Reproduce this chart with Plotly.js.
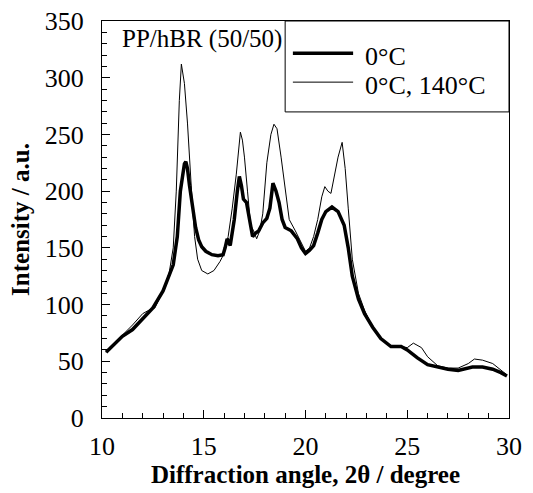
<!DOCTYPE html>
<html>
<head>
<meta charset="utf-8">
<script src="https://cdn.plot.ly/plotly-3.0.1.min.js"></script>
<style>html,body{margin:0;padding:0;background:#fff;}#chart{width:533px;height:493px;}</style>
</head>
<body>
<div id="chart"></div>
<script>
// 0°C (thick)
const angle0 = [10.2,10.5,11,11.5,12,12.5,13,13.3,13.5,13.7,13.85,13.95,14.05,14.12,14.2,14.3,14.45,14.6,14.75,14.9,15.1,15.4,15.7,15.95,16.05,16.15,16.3,16.5,16.65,16.75,16.85,16.95,17.1,17.25,17.4,17.55,17.7,17.9,18.1,18.25,18.4,18.55,18.7,18.85,19.0,19.3,19.6,19.8,20.0,20.2,20.4,20.6,20.8,21.0,21.3,21.6,21.9,22.1,22.3,22.6,22.9,23.3,23.7,24.2,24.7,25.0,25.5,26.0,26.5,27.0,27.5,27.8,28.2,28.7,29.2,29.6,29.9];
const int0 =   [58,63,72,78,87,97,112,125,135,160,200,212,224,226,220,205,185,168,157,151,147,144,143,144,150,158,152,175,200,213,205,193,190,175,160,163,165,172,176,185,207,200,190,175,168,165,158,150,145,148,152,163,175,182,186,182,170,150,125,105,92,80,70,63,63,60,53,47,45,43,42,43,45,45,43,40,37];
// 0°C, 140°C (thin)
const angle1 = [10.2,10.5,11,11.5,12,12.3,12.6,13,13.3,13.5,13.65,13.8,13.9,14.05,14.2,14.4,14.55,14.7,14.9,15.2,15.5,15.8,16.0,16.2,16.4,16.6,16.8,16.9,17.0,17.15,17.3,17.45,17.6,17.75,17.9,18.1,18.3,18.45,18.6,18.8,19.0,19.2,19.5,19.8,20.0,20.2,20.4,20.6,20.8,20.95,21.1,21.25,21.45,21.6,21.8,21.95,22.1,22.3,22.6,22.9,23.3,23.7,24.2,24.7,25.0,25.3,25.7,26.0,26.5,27.0,27.5,28.0,28.3,28.7,29.2,29.6,29.9];
const int1 =   [58,64,73,82,92,95,97,112,128,150,200,280,312,295,260,200,160,140,130,127,130,138,145,160,185,215,252,245,230,200,170,165,158,165,180,225,250,259,255,230,200,175,165,155,147,150,160,175,195,204,200,198,215,230,243,220,185,140,110,95,80,70,63,63,62,66,62,54,46,44,44,48,52,51,48,42,38];

const seriesNames = ['0°C', '0°C, 140°C'];
const seriesWidths = [3.5, 1];
const xTitle = 'Diffraction angle, 2θ / degree';
const yTitle = 'Intensity / a.u.';
const label = 'PP/hBR (50/50)';

const FONT = "'Liberation Serif', 'Times New Roman', Times, serif";

const traces = [
  {x: angle0, y: int0, name: seriesNames[0], mode: 'lines', line: {color: '#000', width: seriesWidths[0]}, showlegend: false},
  {x: angle1, y: int1, name: seriesNames[1], mode: 'lines', line: {color: '#000', width: seriesWidths[1]}, showlegend: false}
];

const axisCommon = {
  showline: true, mirror: true, linecolor: '#000', linewidth: 1,
  showgrid: false, zeroline: false,
  ticks: 'inside', ticklen: 8, tickwidth: 1, tickcolor: '#000',
  tickfont: {family: FONT, size: 26, color: '#000'}
};

// manual legend (paper coordinates)
const legBox = {x0: 0.45, x1: 1.0, y0: 0.771, y1: 1.0};
const legRows = [0.919, 0.846];
const legLine = [0.469, 0.617];
const shapes = [
  {type: 'rect', xref: 'paper', yref: 'paper', x0: legBox.x0, x1: legBox.x1, y0: legBox.y0, y1: legBox.y1,
   line: {color: '#000', width: 1}, fillcolor: '#fff', layer: 'above'}
];
const annotations = [{
  text: label, xref: 'paper', yref: 'paper', x: 0.045, y: 0.955,
  xanchor: 'left', yanchor: 'middle', showarrow: false,
  font: {family: FONT, size: 25, color: '#000'}
}];
seriesNames.forEach((n, i) => {
  shapes.push({type: 'line', xref: 'paper', yref: 'paper', x0: legLine[0], x1: legLine[1], y0: legRows[i], y1: legRows[i],
    line: {color: '#000', width: seriesWidths[i]}, layer: 'above'});
  annotations.push({text: n, xref: 'paper', yref: 'paper', x: 0.641, y: legRows[i] - 0.008,
    xanchor: 'left', yanchor: 'middle', showarrow: false, font: {family: FONT, size: 26, color: '#000'}});
});

const layout = {
  width: 533, height: 493,
  margin: {l: 102, r: 24, t: 21, b: 75},
  paper_bgcolor: '#fff', plot_bgcolor: '#fff',
  font: {family: FONT, color: '#000'},
  xaxis: Object.assign({}, axisCommon, {
    range: [10, 30], dtick: 5, tick0: 10,
    minor: {dtick: 1, ticks: 'inside', ticklen: 5, tickcolor: '#000'},
    ticklabelstandoff: 5,
    title: {text: xTitle, font: {family: FONT, size: 25, color: '#000', weight: 'bold'}, standoff: 5}
  }),
  yaxis: Object.assign({}, axisCommon, {
    range: [0, 350], dtick: 50, tick0: 0,
    minor: {dtick: 10, ticks: 'inside', ticklen: 5, tickcolor: '#000'},
    ticklabelstandoff: 12,
    title: {text: yTitle, font: {family: FONT, size: 25, color: '#000', weight: 'bold'}, standoff: 8}
  }),
  showlegend: false,
  shapes: shapes,
  annotations: annotations
};

Plotly.newPlot('chart', traces, layout, {staticPlot: true, displayModeBar: false});
</script>
</body>
</html>
